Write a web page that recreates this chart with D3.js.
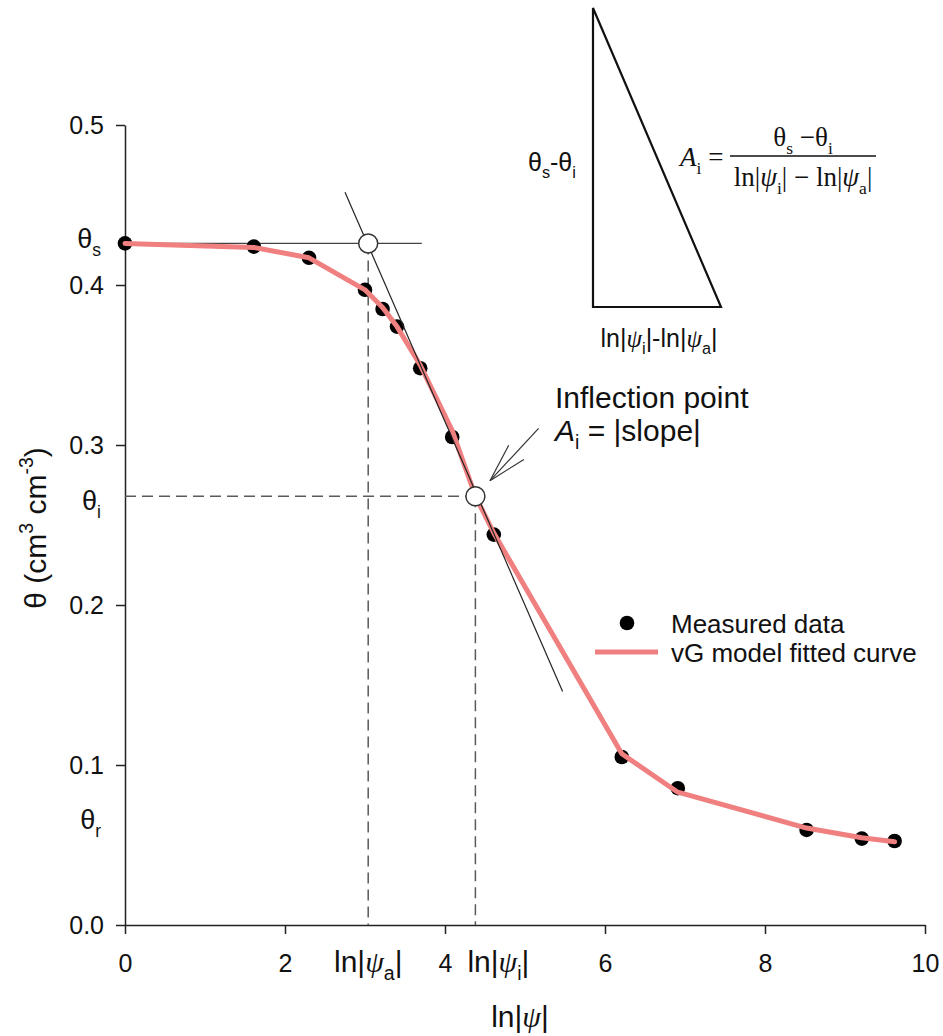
<!DOCTYPE html>
<html>
<head>
<meta charset="utf-8">
<script src="https://cdn.jsdelivr.net/npm/d3@7/dist/d3.min.js"></script>
<style>
  html, body { margin: 0; padding: 0; background: #fff; }
  svg { display: block; }
  text { font-family: "Liberation Sans", Arial, sans-serif; fill: #111; }
  .serif { font-family: "Liberation Serif", "Times New Roman", serif; }
</style>
</head>
<body>
<script>
// Measured retention data: ln|psi| against volumetric water content
const lnPsi = [0, 1.61, 2.30, 3.00, 3.22, 3.40, 3.69, 4.09, 4.61, 6.21, 6.91, 8.52, 9.21, 9.62];
const thetaMeasured = [0.426, 0.424, 0.417, 0.397, 0.385, 0.374, 0.348, 0.305, 0.244, 0.105, 0.0855, 0.0594, 0.054, 0.0525];

// van Genuchten fitted curve
const lnPsiFit = [0, 1.61, 2.30, 3.00, 3.22, 3.40, 3.69, 4.09, 4.38, 4.61, 6.21, 6.91, 8.52, 9.21, 9.62];
const thetaFit = [0.426, 0.4235, 0.417, 0.397, 0.386, 0.374, 0.350, 0.309, 0.268, 0.245, 0.107, 0.083, 0.0606, 0.0545, 0.052];

// Characteristic values
const thetaS = 0.426, thetaI = 0.268, thetaR = 0.066;
const lnPsiA = 3.04, lnPsiI = 4.38;

// Tangent through the inflection point (end points)
const tangentX = [2.75, 5.47];
const tangentTheta = [0.458, 0.146];

// Axis ticks
const xTicks = [0, 2, 4, 6, 8, 10];
const yTicks = [0, 0.1, 0.2, 0.3, 0.4, 0.5];

const W = 943, H = 1036;
const svg = d3.select("body").append("svg").attr("width", W).attr("height", H);

const x = d3.scaleLinear().domain([0, 10]).range([125, 925]);
const y = d3.scaleLinear().domain([0, 0.5]).range([925, 125]);

// rich text helper: segments with optional sub/sup/italic/serif
function rich(sel, segs, size) {
  let off = 0;
  segs.forEach(s => {
    const ts = sel.append("tspan").text(s.t);
    let target = 0, fs = size;
    if (s.sub) { target = 0.28 * size; fs = size * 0.65; }
    if (s.sup) { target = -0.45 * size; fs = size * 0.65; }
    ts.attr("font-size", fs);
    if (target !== off) { ts.attr("dy", target - off); off = target; }
    if (s.it) ts.attr("font-style", "italic");
    if (s.serif) ts.attr("font-family", "Liberation Serif, Times New Roman, serif");
  });
  return sel;
}

// Axes
const axisStyle = g => {
  g.selectAll(".domain").attr("stroke", "#222").attr("stroke-width", 1.5);
  g.selectAll(".tick line").attr("stroke", "#222").attr("stroke-width", 1.5);
  g.selectAll(".tick text").attr("fill", "#111").attr("font-size", 25)
    .attr("font-family", "Liberation Sans, Arial, sans-serif");
};

svg.append("g").attr("transform", `translate(0,${y(0)})`)
  .call(d3.axisBottom(x).tickValues(xTicks).tickSize(9).tickSizeOuter(0).tickPadding(20).tickFormat(d3.format("d")))
  .call(axisStyle);

svg.append("g").attr("transform", `translate(${x(0)},0)`)
  .call(d3.axisLeft(y).tickValues(yTicks).tickSize(9).tickSizeOuter(0).tickPadding(12).tickFormat(d3.format(".1f")))
  .call(axisStyle);

// Reference lines
const dash = "11,6";
const dashColor = "#5a5a5a";
svg.append("line")
  .attr("x1", x(0)).attr("x2", x(lnPsiI)).attr("y1", y(thetaI)).attr("y2", y(thetaI))
  .attr("stroke", dashColor).attr("stroke-width", 1.5).attr("stroke-dasharray", dash);
svg.append("line")
  .attr("x1", x(lnPsiA)).attr("x2", x(lnPsiA)).attr("y1", y(thetaS)).attr("y2", y(0))
  .attr("stroke", dashColor).attr("stroke-width", 1.5).attr("stroke-dasharray", dash);
svg.append("line")
  .attr("x1", x(lnPsiI)).attr("x2", x(lnPsiI)).attr("y1", y(thetaI)).attr("y2", y(0))
  .attr("stroke", dashColor).attr("stroke-width", 1.5).attr("stroke-dasharray", dash);

// Saturated water content level
svg.append("line")
  .attr("x1", x(0)).attr("x2", x(3.71)).attr("y1", y(thetaS)).attr("y2", y(thetaS))
  .attr("stroke", "#444").attr("stroke-width", 1.3);

// Measured points
svg.append("g").selectAll("circle").data(lnPsi).join("circle")
  .attr("cx", (d) => x(d)).attr("cy", (d, i) => y(thetaMeasured[i])).attr("r", 7.3).attr("fill", "#000");

// Fitted curve
const line = d3.line().x(d => x(d[0])).y(d => y(d[1]));
svg.append("path").datum(lnPsiFit.map((v, i) => [v, thetaFit[i]]))
  .attr("d", line).attr("fill", "none").attr("stroke", "#F08080").attr("stroke-width", 5)
  .attr("stroke-linejoin", "round").attr("stroke-linecap", "round");

// Tangent
svg.append("path").datum(tangentX.map((v, i) => [v, tangentTheta[i]]))
  .attr("d", line).attr("fill", "none").attr("stroke", "#222").attr("stroke-width", 1.2);

// Open circles at air-entry and inflection
svg.append("g").selectAll("circle").data([[lnPsiA, thetaS], [lnPsiI, thetaI]]).join("circle")
  .attr("cx", d => x(d[0])).attr("cy", d => y(d[1])).attr("r", 9.5)
  .attr("fill", "#fff").attr("stroke", "#333").attr("stroke-width", 1.5);

// Arrow pointing at inflection point
const tip = [x(4.5625), y(0.2777)], tail = [x(5.17), y(0.3104)];
const ang = Math.atan2(tail[1] - tip[1], tail[0] - tip[0]);
const barb = 40, spread = 15 * Math.PI / 180;
const arrow = svg.append("g").attr("stroke", "#333").attr("stroke-width", 1.2).attr("fill", "none");
arrow.append("line").attr("x1", tail[0]).attr("y1", tail[1]).attr("x2", tip[0]).attr("y2", tip[1]);
[-1, 1].forEach(s => {
  arrow.append("line").attr("x1", tip[0]).attr("y1", tip[1])
    .attr("x2", tip[0] + barb * Math.cos(ang + s * spread))
    .attr("y2", tip[1] + barb * Math.sin(ang + s * spread));
});

// Y-axis level labels
rich(svg.append("text").attr("x", 101).attr("y", y(thetaS) + 5).attr("text-anchor", "end").attr("font-size", 27),
  [{ t: "θ" }, { t: "s", sub: true }], 27);
rich(svg.append("text").attr("x", 101).attr("y", y(thetaI) + 14).attr("text-anchor", "end").attr("font-size", 27),
  [{ t: "θ" }, { t: "i", sub: true }], 27);
rich(svg.append("text").attr("x", 101).attr("y", y(thetaR) + 10).attr("text-anchor", "end").attr("font-size", 27),
  [{ t: "θ" }, { t: "r", sub: true }], 27);

// X-axis level labels
rich(svg.append("text").attr("x", x(lnPsiA)).attr("y", 972).attr("text-anchor", "middle").attr("font-size", 30),
  [{ t: "ln|" }, { t: "ψ", it: true, serif: true }, { t: "a", sub: true }, { t: "|" }], 30);
rich(svg.append("text").attr("x", x(lnPsiI) - 8).attr("y", 972).attr("text-anchor", "start").attr("font-size", 30),
  [{ t: "ln|" }, { t: "ψ", it: true, serif: true }, { t: "i", sub: true }, { t: "|" }], 30);

// Axis titles
rich(svg.append("text").attr("x", 520).attr("y", 1027).attr("text-anchor", "middle").attr("font-size", 30),
  [{ t: "ln|" }, { t: "ψ", it: true, serif: true }, { t: "|" }], 30);
rich(svg.append("text").attr("transform", "translate(46,528) rotate(-90)").attr("text-anchor", "middle").attr("font-size", 30),
  [{ t: "θ (cm" }, { t: "3", sup: true }, { t: " cm" }, { t: "-3", sup: true }, { t: ")" }], 30);

// Annotation
svg.append("text").attr("x", 555).attr("y", 408).attr("font-size", 30).text("Inflection point");
rich(svg.append("text").attr("x", 555).attr("y", 441).attr("font-size", 30),
  [{ t: "A", it: true }, { t: "i", sub: true }, { t: " = |slope|" }], 30);

// Legend
svg.append("circle").attr("cx", 627).attr("cy", 623).attr("r", 7.3).attr("fill", "#000");
svg.append("text").attr("x", 671).attr("y", 633).attr("font-size", 26).text("Measured data");
svg.append("line").attr("x1", 595).attr("x2", 658).attr("y1", 652).attr("y2", 652)
  .attr("stroke", "#F08080").attr("stroke-width", 5);
svg.append("text").attr("x", 671).attr("y", 662).attr("font-size", 26).text("vG model fitted curve");

// Inset triangle sketch
const tri = [[593, 8], [593, 307], [721, 307]];
svg.append("path").attr("d", d3.line()(tri) + "Z")
  .attr("fill", "none").attr("stroke", "#111").attr("stroke-width", 2.2).attr("stroke-linejoin", "miter");
rich(svg.append("text").attr("x", 528).attr("y", 171).attr("font-size", 25),
  [{ t: "θ" }, { t: "s", sub: true }, { t: "-θ" }, { t: "i", sub: true }], 25);
rich(svg.append("text").attr("x", 659).attr("y", 347).attr("text-anchor", "middle").attr("font-size", 25),
  [{ t: "ln|" }, { t: "ψ", it: true, serif: true }, { t: "i", sub: true }, { t: "|-ln|" }, { t: "ψ", it: true, serif: true }, { t: "a", sub: true }, { t: "|" }], 25);

// Formula A_i = (θs − θi) / (ln|ψi| − ln|ψa|)
const formula = svg.append("g");
rich(formula.append("text").attr("class", "serif").attr("x", 680).attr("y", 166).attr("font-size", 27),
  [{ t: "A", it: true }, { t: "i", sub: true }, { t: " =" }], 27);
rich(formula.append("text").attr("class", "serif").attr("x", 803).attr("y", 146).attr("text-anchor", "middle").attr("font-size", 27),
  [{ t: "θ" }, { t: "s", sub: true }, { t: " −θ" }, { t: "i", sub: true }], 27);
formula.append("line").attr("x1", 730).attr("x2", 876).attr("y1", 156).attr("y2", 156)
  .attr("stroke", "#111").attr("stroke-width", 1.3);
rich(formula.append("text").attr("class", "serif").attr("x", 803).attr("y", 186).attr("text-anchor", "middle").attr("font-size", 27),
  [{ t: "ln|" }, { t: "ψ", it: true }, { t: "i", sub: true }, { t: "| − ln|" }, { t: "ψ", it: true }, { t: "a", sub: true }, { t: "|" }], 27);
</script>
</body>
</html>
